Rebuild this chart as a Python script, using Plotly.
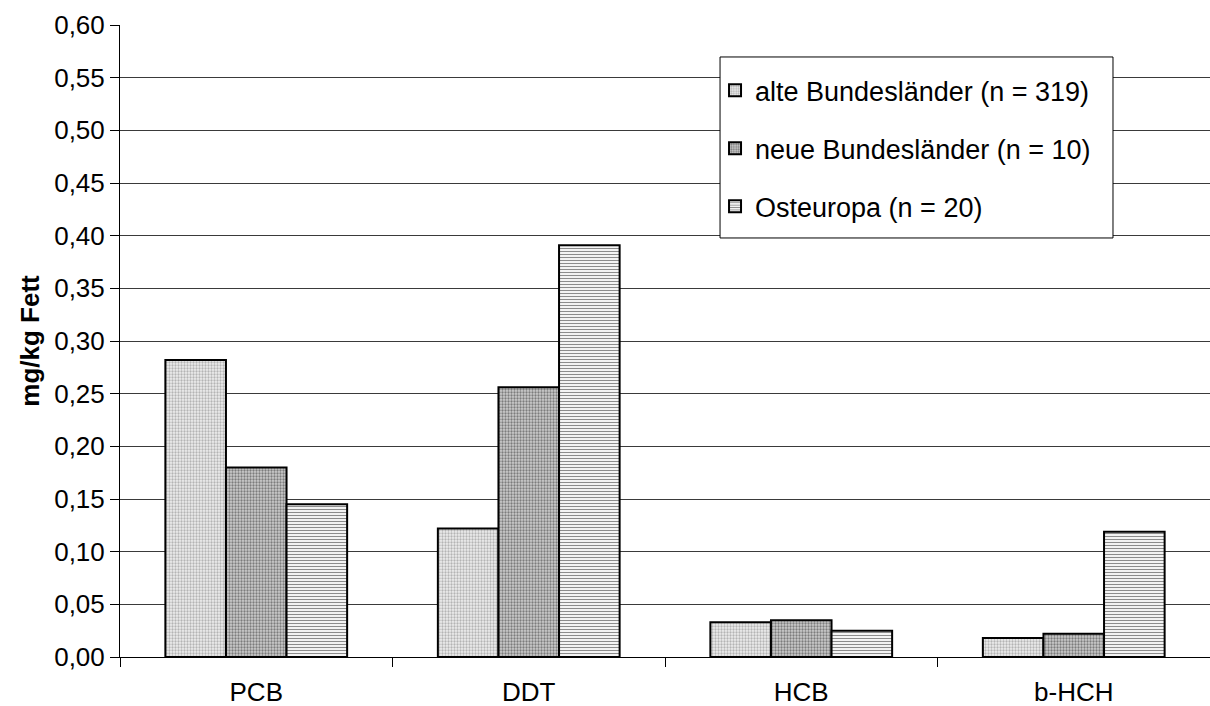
import plotly.graph_objects as go

# Schadstoffe (Kategorien)
kategorien = ["PCB", "DDT", "HCB", "b-HCH"]

# Mittelwerte in mg/kg Fett je Herkunft
alte_bl = [0.282, 0.122, 0.033, 0.018]
neue_bl = [0.180, 0.256, 0.035, 0.022]
osteuropa = [0.145, 0.391, 0.025, 0.119]

serien_namen = [
    "alte Bundesländer (n = 319)",
    "neue Bundesländer (n = 10)",
    "Osteuropa (n = 20)",
]

y_ticks = [i * 0.05 for i in range(13)]

FONT = "Liberation Sans, Arial, sans-serif"

muster = [
    dict(shape=".", bgcolor="#eeeeee", fgcolor="#b4b4b4", size=3, solidity=0.45),
    dict(shape=".", bgcolor="#cdcdcd", fgcolor="#7c7c7c", size=3, solidity=0.45),
    dict(shape="-", bgcolor="#ffffff", fgcolor="#8c8c8c", size=3, solidity=0.4),
]

fig = go.Figure()
for name, werte, pat in zip(serien_namen, [alte_bl, neue_bl, osteuropa], muster):
    fig.add_trace(
        go.Bar(
            x=kategorien,
            y=werte,
            name=name,
            legendgroup=name,
            marker=dict(
                color=pat["bgcolor"],
                line=dict(color="#000000", width=2),
                pattern=dict(
                    shape=pat["shape"],
                    bgcolor=pat["bgcolor"],
                    fgcolor=pat["fgcolor"],
                    size=pat["size"],
                    solidity=pat["solidity"],
                    fillmode="replace",
                ),
            ),
        )
    )

# Rahmen der Legende
fig.add_shape(
    type="rect",
    xref="paper",
    yref="paper",
    x0=0.5505,
    x1=0.911,
    y0=0.663,
    y1=0.9494,
    line=dict(color="#000000", width=1),
    fillcolor="#ffffff",
    layer="above",
)

fig.update_layout(
    width=1210,
    height=706,
    margin=dict(l=120, r=0, t=25, b=49),
    paper_bgcolor="#ffffff",
    plot_bgcolor="#ffffff",
    separators=",.",
    barmode="group",
    bargap=0.333,
    bargroupgap=0,
    font=dict(family=FONT, size=26, color="#000000"),
    legend=dict(
        x=0.5459,
        y=0.935,
        xanchor="left",
        yanchor="top",
        bgcolor="rgba(0,0,0,0)",
        borderwidth=0,
        traceorder="grouped",
        tracegroupgap=20,
        font=dict(family=FONT, size=27, color="#000000"),
        itemwidth=30,
    ),
    xaxis=dict(
        showline=True,
        linecolor="#000000",
        linewidth=1,
        ticks="outside",
        tickson="boundaries",
        ticklen=9,
        tickcolor="#000000",
        tickfont=dict(family=FONT, size=26),
        ticklabelstandoff=12,
        showgrid=False,
        automargin=False,
    ),
    yaxis=dict(
        range=[0, 0.6],
        tickvals=y_ticks,
        tickformat=".2f",
        showline=True,
        linecolor="#000000",
        linewidth=1,
        ticks="outside",
        ticklen=9,
        tickcolor="#000000",
        tickfont=dict(family=FONT, size=26),
        showgrid=True,
        gridcolor="#3a3a3a",
        gridwidth=1,
        zeroline=False,
        automargin=False,
        title=dict(
            text="<b>mg/kg Fett</b>",
            font=dict(family=FONT, size=26),
            standoff=7,
        ),
    ),
)

fig.write_html("out.html")
